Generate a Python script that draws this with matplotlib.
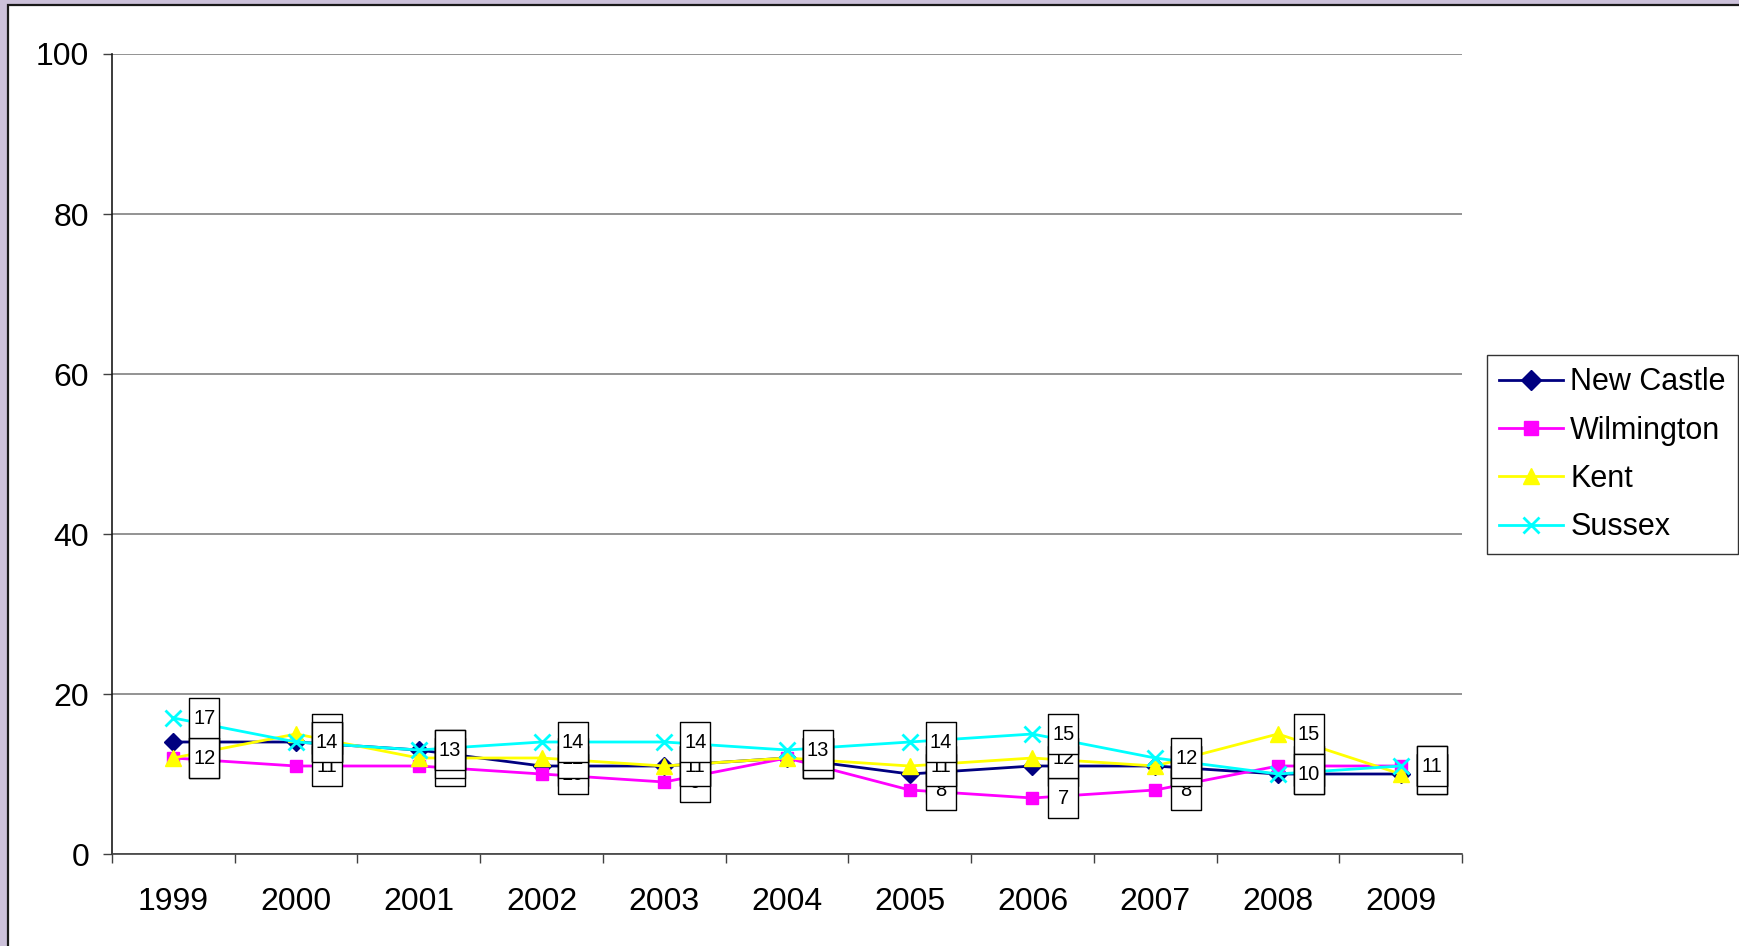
import matplotlib.pyplot as plt
import matplotlib.transforms as mtransforms
from matplotlib.patches import Rectangle
import numpy as np

plt.rcParams['font.family'] = ['Liberation Sans', 'DejaVu Sans']

# data
years = ['1999', '2000', '2001', '2002', '2003', '2004', '2005', '2006', '2007', '2008', '2009']
new_castle = [14, 14, 13, 11, 11, 12, 10, 11, 11, 10, 10]
wilmington = [12, 11, 11, 10, 9, 12, 8, 7, 8, 11, 11]
kent = [12, 15, 12, 12, 11, 12, 11, 12, 11, 15, 10]
sussex = [17, 14, 13, 14, 14, 13, 14, 15, 12, 10, 11]

series = [
    ('New Castle', new_castle, '#000080', 'D', 9.5),
    ('Wilmington', wilmington, '#FF00FF', 's', 9),
    ('Kent', kent, '#FFFF00', '^', 11),
    ('Sussex', sussex, '#00FFFF', 'x', 11),
]

W, H = 1740, 946
fig = plt.figure(figsize=(W / 100, H / 100), dpi=100)
fig.patch.set_facecolor('#CCC1DA')
# white chart area with dark frame on left/top
fig.patches.append(Rectangle((8.5 / W, -0.01), 1, 1.01 - 5.5 / H, transform=fig.transFigure,
                             facecolor='white', edgecolor='#1a1a1a', linewidth=1.6, zorder=-10))

ax = fig.add_axes([112 / W, 1 - 854 / H, (1462 - 112) / W, (854 - 54) / H])
ax.set_facecolor('none')

x = np.arange(len(years))

for i, (name, vals, col, mk, ms) in enumerate(series):
    mew = 2 if mk == 'x' else 1
    ax.plot(x, vals, color=col, lw=2, marker=mk, ms=ms, mfc=col, mec=col, mew=mew,
            label=name, zorder=3 + i, clip_on=False)

# data label boxes, offset to the right of each point
box = [(-0.75, -1), (0.75, -1), (0.75, 1), (-0.75, 1), (-0.75, -1)]
off = mtransforms.ScaledTranslation(31 / 100, 0, fig.dpi_scale_trans)
for i, (name, vals, col, mk, ms) in enumerate(series):
    ax.plot(x, vals, linestyle='none', marker=box, ms=28.8, mfc='white', mec='black',
            mew=1, transform=ax.transData + off, zorder=10 + 2 * i, clip_on=False)
    for xi, v in zip(x, vals):
        ax.annotate(str(v), (xi, v), xytext=(31 * 0.72, 0), textcoords='offset points',
                    ha='center', va='center', fontsize=14.5, zorder=11 + 2 * i)

ax.set_xlim(-0.5, len(years) - 0.5)
ax.set_ylim(0, 100)
ax.set_yticks([0, 20, 40, 60, 80, 100])
ax.yaxis.grid(True, color='#808080', lw=1.2)
ax.set_axisbelow(True)

ax.set_xticks(np.arange(-0.5, len(years), 1))
ax.set_xticklabels([])
ax.set_xticks(x, minor=True)
ax.set_xticklabels(years, minor=True)
ax.tick_params(axis='x', which='major', direction='out', length=6.5, width=1, color='#404040')
ax.tick_params(axis='x', which='minor', length=0, pad=24, labelsize=23)
ax.tick_params(axis='y', direction='out', length=6.5, width=1, color='#404040', pad=10, labelsize=23)

for s in ['top', 'right']:
    ax.spines[s].set_visible(False)
ax.spines['left'].set_color('#1a1a1a')
ax.spines['bottom'].set_color('#404040')
ax.spines['left'].set_linewidth(1.2)
ax.spines['bottom'].set_linewidth(1.2)

leg = fig.legend(loc='upper left', bbox_to_anchor=(1487 / W, 1 - 355 / H), borderaxespad=0,
                 fontsize=22, frameon=True, fancybox=False, handlelength=2.1,
                 handletextpad=0.22, labelspacing=0.6, borderpad=0.4, markerscale=1.1)
leg.get_frame().set_edgecolor('black')
leg.get_frame().set_linewidth(1)
for ln in leg.get_lines():
    ln.set_linewidth(2)

fig.savefig('out.png', dpi=100)
